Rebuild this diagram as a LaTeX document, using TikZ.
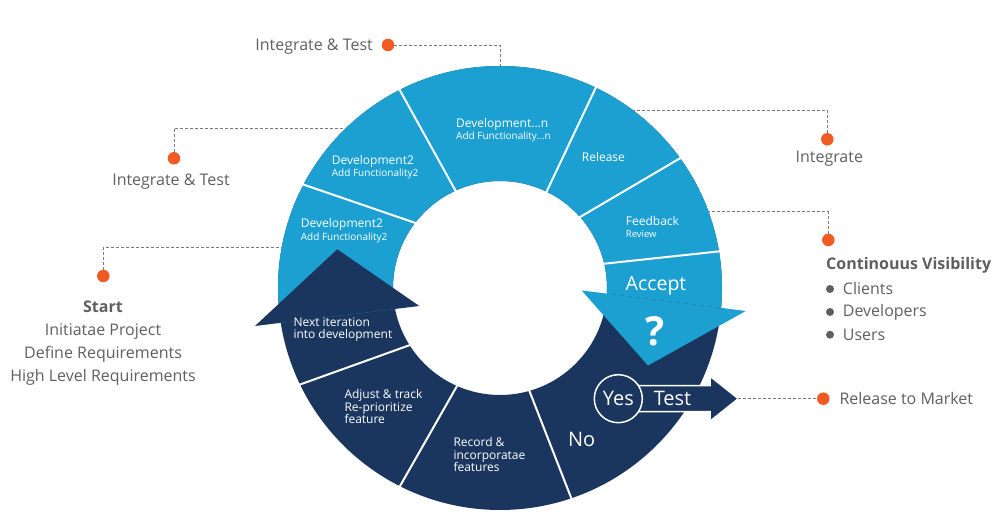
\documentclass[tikz,border=0pt]{standalone}
\usepackage{fontspec}
\setmainfont{Open Sans}
\usetikzlibrary{calc}

\definecolor{ringblue}{RGB}{28,160,209}
\definecolor{ringnavy}{RGB}{26,54,94}
\definecolor{dotorange}{RGB}{241,90,34}
\definecolor{labelgray}{RGB}{95,95,95}
\definecolor{dashgray}{RGB}{120,120,120}

\begin{document}
\begin{tikzpicture}[x=1pt, y=1pt,
    seglabel/.style={text=white, anchor=west, align=left, inner sep=0pt, font=\fontsize{12}{12.6}\selectfont},
    sidelabel/.style={text=labelgray, inner sep=0pt, font=\fontsize{16}{23}\selectfont},
    bigword/.style={text=white, inner sep=0pt, font=\fontsize{20}{24}\selectfont},
    orangedot/.style={circle, fill=dotorange, inner sep=0pt, minimum size=12.5pt},
    graydot/.style={circle, fill=labelgray, inner sep=0pt, minimum size=8pt},
    leader/.style={dashgray, dash pattern=on 3pt off 2pt, line width=0.7pt},
    divider/.style={white, line width=2pt}]
    \useasboundingbox (0,0) rectangle (999,529);
    \coordinate (ctr) at (500,241);

    % Dark ring underneath
    \fill[ringnavy, even odd rule] (ctr) circle[radius=222] (ctr) circle[radius=107];
    % Light blue top half, cut at the two arrow wings
    \begin{scope}
        \clip (200,196.3) -- (419.3,223) -- (581.7,238.5) -- (800,211.2) -- (800,529) -- (200,529) -- cycle;
        \fill[ringblue, even odd rule] (ctr) circle[radius=222] (ctr) circle[radius=107];
    \end{scope}

    % Arrow heads
    \fill[ringnavy] (255,203) -- (337.3,279.7) -- (419.3,223) -- cycle;
    \fill[ringblue] (581.7,238.5) -- (745.7,218) -- (648,163.5) -- cycle;

    % White lines between the segments
    \foreach \p/\q in {{411.7,307.3}/{306.7,343.3}, {453.3,342.3}/{401,436.7}, {547.7,339.7}/{595,439.7},
                       {582.3,313.3}/{680,370.7}, {601.7,265}/{722.7,278}, {409.3,183.7}/{296.7,143.3},
                       {455.7,140.7}/{399.3,41.7}, {530.7,134.7}/{570.7,32.3}} {
        \draw[divider] ($(\p)!-0.05!(\q)$) -- ($(\q)!-0.05!(\p)$);
    }

    % Labels in the light segments
    \node[seglabel] (devlow) at (300.7,298.3) {Development2\\{\fontsize{10}{12}\selectfont Add Functionality2}};
    \node[seglabel] (devup) at (331.7,362) {Development2\\{\fontsize{10}{12}\selectfont Add Functionality2}};
    \node[seglabel] (devn) at (456,399) {Development...n\\{\fontsize{10}{12}\selectfont Add Functionality...n}};
    \node[seglabel] (release) at (581.7,371.7) {Release};
    \node[seglabel] (feedback) at (625.7,302) {Feedback\\{\fontsize{9.5}{12}\selectfont Review}};
    \node[bigword, font=\fontsize{19.5}{22}\selectfont] (accept) at (656,243) {Accept};
    \node[bigword, font=\fontsize{40}{44}\selectfont\bfseries] (quest) at (655,197.3) {?};

    % Labels in the dark segments
    \node[seglabel] (nextit) at (293.3,199.5) {Next iteration\\into development};
    \node[seglabel] (adjust) at (344.3,122.4) {Adjust \& track\\Re-prioritize\\feature};
    \node[seglabel] (record) at (453.3,74.4) {Record \&\\incorporatae\\features};
    \node[bigword] (no) at (581.7,89.7) {No};

    % Yes / Test arrow
    \draw[fill=ringnavy, draw=white, line width=1.5pt] (630,143.3) -- (710,143.3) -- (710,152.8) -- (738.3,130.3)
        -- (710,107.8) -- (710,117.3) -- (630,117.3) -- cycle;
    \coordinate (testtip) at (738.3,130.3);
    \node[bigword] (test) at (672.5,130.3) {Test};
    \node[bigword, circle, draw=white, line width=1.5pt, fill=ringnavy, minimum size=48pt] (yes) at (618.3,130.3) {Yes};

    % Top: Integrate & Test
    \node[orangedot] (dottop) at (388,484) {};
    \node[sidelabel, anchor=east] (lbltop) at (373,482.5) {Integrate \& Test};
    \coordinate (ringtop) at (500,463);
    \draw[leader] (dottop) -| (ringtop);

    % Left: Integrate & Test
    \node[orangedot] (dotleft) at (174,370.7) {};
    \node[sidelabel] (lblleft) at (171,347.3) {Integrate \& Test};
    \coordinate (ringleft) at (346,400.7);
    \draw[leader] (dotleft) |- (ringleft);

    % Start
    \node[orangedot] (dotstart) at (103.3,253) {};
    \node[sidelabel, align=center] (lblstart) at (103,186) {\textbf{Start}\\Initiatae Project\\Define Requirements\\High Level Requirements};
    \coordinate (ringstart) at (282,281.7);
    \draw[leader] (dotstart) |- (ringstart);

    % Right: Integrate
    \node[orangedot] (dotint) at (827.3,389.7) {};
    \node[sidelabel] (lblint) at (829.3,370.7) {Integrate};
    \coordinate (ringint) at (633,419);
    \draw[leader] (dotint) |- (ringint);

    % Continouus Visibility
    \node[orangedot] (dotvis) at (828.3,289) {};
    \node[sidelabel, anchor=west] (lblvis) at (826,264) {\textbf{Continouus Visibility}};
    \coordinate (ringvis) at (709,317.3);
    \draw[leader] (dotvis) |- (ringvis);
    \foreach \y/\t in {240/Clients, 217/Developers, 194.3/Users} {
        \node[graydot] (bul\t) at (830,\y) {};
        \node[sidelabel, anchor=west] (lbl\t) at (842.7,\y) {\t};
    }

    % Release to Market
    \node[orangedot] (dotmarket) at (823.3,130.3) {};
    \node[sidelabel, anchor=west] (lblmarket) at (839.3,130.3) {Release to Market};
    \draw[leader] (testtip) -- (dotmarket);
\end{tikzpicture}
\end{document}
